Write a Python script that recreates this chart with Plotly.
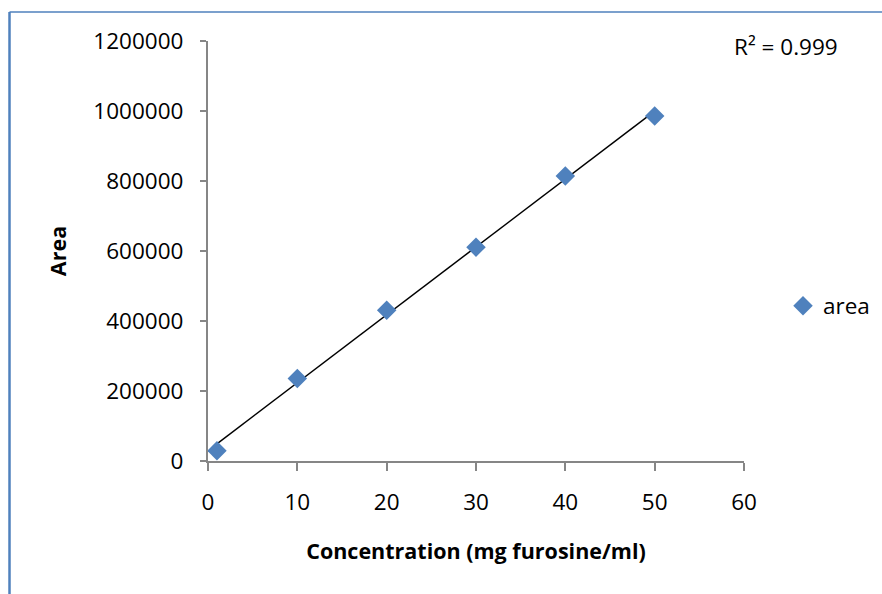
import numpy as np
import plotly.graph_objects as go

# Calibration data: furosine concentration vs. peak area
concentration = [1, 10, 20, 30, 40, 50]
area = [29400, 236000, 431000, 611000, 814000, 986000]
x_ticks = [0, 10, 20, 30, 40, 50, 60]
y_ticks = [0, 200000, 400000, 600000, 800000, 1000000, 1200000]
r2_label = "R² = 0.999"

# Linear trendline through the calibration points
slope, intercept = np.polyfit(concentration, area, 1)
trend_x = [min(concentration), max(concentration)]
trend_y = [slope * v + intercept for v in trend_x]

W, H = 882, 594
L, R, T, B = 208, 138, 41, 133
pw, ph = W - L - R, H - T - B


def px_x(p):
    return (p - L) / pw


def px_y(p):
    return (H - B - p) / ph


FONT = "Open Sans"
AXIS_GREY = "#868686"
BLUE = "#4F81BD"

fig = go.Figure()
fig.add_trace(go.Scatter(
    x=trend_x, y=trend_y, mode="lines",
    line=dict(color="black", width=1.5),
    showlegend=False, hoverinfo="skip",
))
fig.add_trace(go.Scatter(
    x=concentration, y=area, mode="markers", name="area",
    marker=dict(symbol="diamond", size=15, color=BLUE),
))

fig.update_layout(
    width=W, height=H,
    margin=dict(l=L, r=R, t=T, b=B, autoexpand=False),
    paper_bgcolor="white", plot_bgcolor="white",
    font=dict(family=FONT, size=22.5, color="black"),
    xaxis=dict(
        range=[0, 60], tickvals=x_ticks, ticktext=[str(v) for v in x_ticks],
        showgrid=False, zeroline=False, showline=True,
        linecolor=AXIS_GREY, linewidth=2.2,
        ticks="outside", ticklen=8, tickwidth=2, tickcolor=AXIS_GREY,
        ticklabelstandoff=12,
        title=dict(text="<b>Concentration (mg furosine/ml)</b>",
                   font=dict(size=21.5), standoff=28),
    ),
    yaxis=dict(
        range=[0, 1200000], tickvals=y_ticks, ticktext=[str(v) for v in y_ticks],
        showgrid=False, zeroline=False, showline=True,
        linecolor=AXIS_GREY, linewidth=2.2,
        ticks="outside", ticklen=6, tickwidth=2, tickcolor=AXIS_GREY,
        ticklabelstandoff=12,
        title=dict(text="<b>Area</b>", font=dict(size=21.5), standoff=21),
    ),
    legend=dict(
        x=px_x(783), y=px_y(306), xanchor="left", yanchor="middle",
        font=dict(size=22.5), bgcolor="rgba(0,0,0,0)",
        itemwidth=30, tracegroupgap=0,
    ),
    showlegend=True,
    annotations=[dict(
        text=r2_label, xref="paper", yref="paper",
        x=px_x(786), y=px_y(47), xanchor="center", yanchor="middle",
        showarrow=False, font=dict(size=22.5),
    )],
    shapes=[
        dict(type="line", xref="paper", yref="paper",
             x0=px_x(9.5), x1=px_x(900), y0=px_y(12), y1=px_y(12),
             line=dict(color=BLUE, width=1.5)),
        dict(type="line", xref="paper", yref="paper",
             x0=px_x(9.5), x1=px_x(9.5), y0=px_y(12), y1=px_y(620),
             line=dict(color=BLUE, width=2.5)),
    ],
)

fig.write_html("out.html")
